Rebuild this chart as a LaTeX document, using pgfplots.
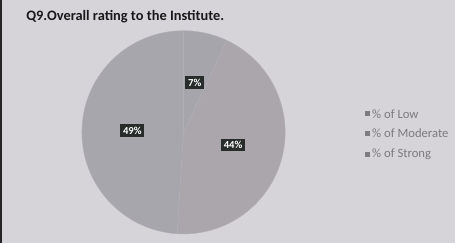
\documentclass[border=0pt]{standalone}
\usepackage{pgfplots}
\pgfplotsset{compat=1.18}
\usepackage{pgfplotstable}
\usepackage{fontspec}
\setmainfont{Carlito}
\definecolor{bgc}{RGB}{214,211,217}
\definecolor{pieedge}{RGB}{178,176,182}
\definecolor{lowc}{RGB}{166,165,171}
\definecolor{modc}{RGB}{170,166,172}
\definecolor{strc}{RGB}{167,166,172}
\definecolor{lblbg}{RGB}{40,44,42}
\definecolor{leggray}{RGB}{125,123,128}
\pgfplotstableread{
label value
Low 7
Moderate 44
Strong 49
}\piedata
\newcommand\cumsum{0}
\newcommand\pcx{4.84}
\newcommand\pcy{2.92}
\newcommand{\pieslice}[2]{%
  \pgfplotstablegetelem{#1}{value}\of\piedata
  \let\vv\pgfplotsretval
  \pgfmathsetmacro\va{90-\cumsum*3.6}%
  \pgfmathsetmacro\vb{90-(\cumsum+\vv)*3.6}%
  \pgfmathsetmacro\cumnew{\cumsum+\vv}%
  \global\let\cumsum\cumnew
  \edef\temp{\noexpand\fill[#2, draw=pieedge, line width=0.3pt] (axis cs:\pcx,\pcy) -- ++(\va:2.68cm) arc[start angle=\va, end angle=\vb, radius=2.68cm] -- cycle;}%
  \temp
}
\newcommand{\pielabel}[1]{%
  \pgfplotstablegetelem{#1}{value}\of\piedata
  \let\vv\pgfplotsretval
  \pgfmathsetmacro\va{90-\cumsum*3.6}%
  \pgfmathsetmacro\vb{90-(\cumsum+\vv)*3.6}%
  \pgfmathsetmacro\vm{(\va+\vb)/2}%
  \pgfmathsetmacro\cumnew{\cumsum+\vv}%
  \global\let\cumsum\cumnew
  \edef\temp{\noexpand\path (axis cs:\pcx,\pcy) ++(\vm:1.35cm) node[fill=lblbg, text=white, font=\noexpand\fontsize{8}{9}\noexpand\selectfont\noexpand\bfseries, inner xsep=2pt, inner ysep=2pt] {\vv\noexpand\%};}%
  \temp
}
\begin{document}
\begin{tikzpicture}
\begin{axis}[x=1cm, y=1cm, xmin=0, xmax=12, ymin=0, ymax=6.41,
  hide axis, scale only axis, clip=false]
\fill[bgc] (axis cs:0,0) rectangle (axis cs:12,6.41);
\fill[black!85] (axis cs:0,0) rectangle (axis cs:0.04,6.41);
\pieslice{0}{lowc}
\pieslice{1}{modc}
\pieslice{2}{strc}
\gdef\cumsum{0}
\pielabel{0}
\pielabel{1}
\pielabel{2}
\node[anchor=base west, font=\fontsize{10.8}{13}\selectfont\bfseries, text=black!90, inner sep=0pt] at (axis cs:0.686,5.86) {Q9.Overall rating to the Institute.};
\fill[lowc!75!black] (axis cs:9.63,3.35) rectangle (axis cs:9.75,3.47);
\fill[modc!75!black] (axis cs:9.63,2.83) rectangle (axis cs:9.75,2.95);
\fill[strc!75!black] (axis cs:9.63,2.27) rectangle (axis cs:9.75,2.39);
\node[anchor=west, font=\fontsize{9.5}{11}\selectfont, text=leggray, inner sep=0pt] at (axis cs:9.81,3.41) {\% of Low};
\node[anchor=west, font=\fontsize{9.5}{11}\selectfont, text=leggray, inner sep=0pt] at (axis cs:9.81,2.89) {\% of Moderate};
\node[anchor=west, font=\fontsize{9.5}{11}\selectfont, text=leggray, inner sep=0pt] at (axis cs:9.81,2.33) {\% of Strong};
\end{axis}
\end{tikzpicture}
\end{document}
